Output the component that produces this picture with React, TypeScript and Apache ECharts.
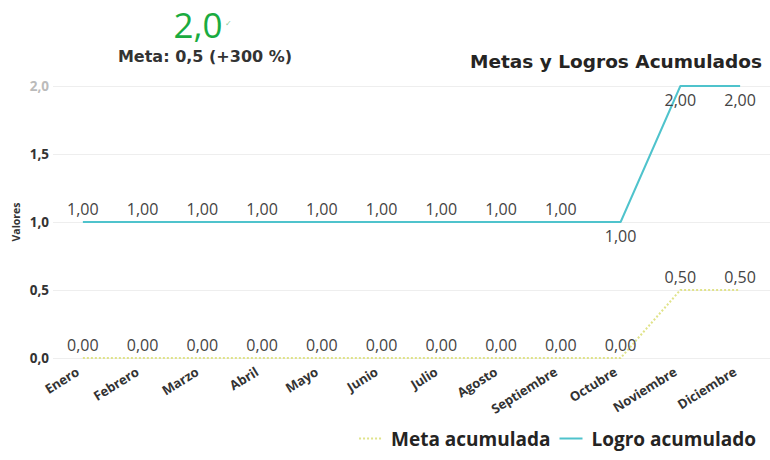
import React, { useEffect, useRef } from "react";
import * as echarts from "echarts";

const months = ["Enero", "Febrero", "Marzo", "Abril", "Mayo", "Junio", "Julio", "Agosto", "Septiembre", "Octubre", "Noviembre", "Diciembre"];
const metaAcumulada = [0, 0, 0, 0, 0, 0, 0, 0, 0, 0, 0.5, 0.5];
const logroAcumulado = [1, 1, 1, 1, 1, 1, 1, 1, 1, 1, 2, 2];
const yTicks = [0, 0.5, 1, 1.5, 2];
const kpiValue = "2,0";
const kpiGoal = "Meta: 0,5 (+300 %)";

const FONT = "'Open Sans', 'Noto Sans', sans-serif";
const BOLDFONT = "'DejaVu Sans', 'Open Sans', sans-serif";
const fmt2 = (v: number) => v.toFixed(2).replace(".", ",");
const fmt1 = (v: number) => v.toFixed(1).replace(".", ",");

export default function App() {
  const ref = useRef<HTMLDivElement>(null);
  useEffect(() => {
    if (!ref.current) return;
    const chart = echarts.init(ref.current, null, { renderer: "svg" });
    const logroBelow = [9, 10, 11];
    const labelCommon = {
      show: true,
      fontFamily: FONT,
      fontSize: 16,
      color: "#444444",
      formatter: (p: any) => fmt2(typeof p.value === "number" ? p.value : p.data.value),
    };
    chart.setOption({
      animation: false,
      textStyle: { fontFamily: FONT },
      title: {
        text: "Metas y Logros Acumulados",
        right: 3,
        top: 47,
        textStyle: { fontFamily: BOLDFONT, fontSize: 18.5, fontWeight: "bold", color: "#252423" },
      },
      graphic: [
        {
          type: "text",
          x: 198,
          y: 24,
          style: {
            text: kpiValue,
            font: `35px ${FONT}`,
            fill: "#1AAB40",
            align: "center",
            verticalAlign: "middle",
          },
        },
        {
          type: "text",
          x: 225,
          y: 22,
          style: { text: "✓", font: `8px ${FONT}`, fill: "#8CCB98", align: "left", verticalAlign: "middle" },
        },
        {
          type: "text",
          x: 205,
          y: 56,
          style: {
            text: kpiGoal,
            font: `bold 16px ${BOLDFONT}`,
            fill: "#333333",
            align: "center",
            verticalAlign: "middle",
          },
        },
      ],
      legend: {
        right: 9,
        bottom: 7,
        itemWidth: 23,
        itemHeight: 10,
        itemGap: 8,
        itemStyle: { opacity: 0 },
        textStyle: { fontFamily: FONT, fontSize: 19, fontWeight: "bold", color: "#252423", padding: [0, 0, 0, 4] },
        data: ["Meta acumulada", "Logro acumulado"],
      },
      grid: { left: 53, right: 0, top: 86, bottom: 102, containLabel: false, outerBoundsMode: "none" },
      xAxis: {
        type: "category",
        data: months,
        boundaryGap: true,
        axisLine: { show: false },
        axisTick: { show: false },
        axisLabel: {
          rotate: 32,
          interval: 0,
          margin: 9,
          padding: [0, 6, 0, 0],
          fontFamily: FONT,
          fontSize: 13,
          fontWeight: "bold",
          color: "#333333",
        },
      },
      yAxis: {
        type: "value",
        min: yTicks[0],
        max: yTicks[yTicks.length - 1],
        interval: 0.5,
        name: "Valores",
        nameLocation: "middle",
        nameRotate: 90,
        nameGap: 32,
        nameMoveOverlap: false,
        nameTextStyle: { fontFamily: FONT, fontSize: 10.5, fontWeight: "bold", color: "#333333" },
        axisLine: { show: false },
        axisTick: { show: false },
        splitLine: { lineStyle: { color: "#EEEEEE", width: 1 } },
        axisLabel: {
          margin: 4,
          fontFamily: FONT,
          fontSize: 13.5,
          fontWeight: "bold",
          formatter: (v: number) => fmt1(v),
          color: (v: any) => (Number(v) >= 2 ? "#BBBBBB" : "#333333"),
        },
      },
      series: [
        {
          name: "Meta acumulada",
          type: "line",
          data: metaAcumulada,
          symbol: "circle",
          symbolSize: 0,
          showSymbol: true,
          lineStyle: { color: "#E0E38A", width: 2, type: "dotted" },
          itemStyle: { color: "#E0E38A" },
          label: { ...labelCommon, position: "top", distance: 5 },
        },
        {
          name: "Logro acumulado",
          type: "line",
          data: logroAcumulado.map((v, i) =>
            logroBelow.includes(i) ? { value: v, label: { position: "bottom", distance: 6 } } : v
          ),
          symbol: "circle",
          symbolSize: 0,
          showSymbol: true,
          lineStyle: { color: "#4FC3CC", width: 2 },
          itemStyle: { color: "#4FC3CC" },
          label: { ...labelCommon, position: "top", distance: 5 },
        },
      ],
    });
    return () => chart.dispose();
  }, []);
  return (
    <div
      ref={ref}
      style={{ position: "fixed", left: 0, top: 0, width: 770, height: 460, background: "#ffffff" }}
    />
  );
}
